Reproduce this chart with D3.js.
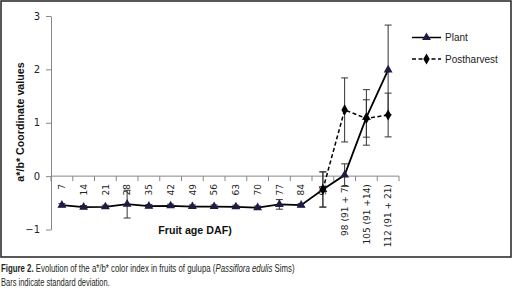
<!DOCTYPE html>
<html><head><meta charset="utf-8">
<script src="https://cdn.jsdelivr.net/npm/d3@7/dist/d3.min.js"></script>
<style>body{margin:0;background:#fff}svg{display:block}</style>
</head><body>
<script>
const categories = ["7","14","21","28","35","42","49","56","63","70","77","84","91","98 (91 + 7)","105 (91 +14)","112 (91 + 21)"];
const plantValues = [-0.545,-0.58,-0.575,-0.525,-0.563,-0.556,-0.57,-0.57,-0.575,-0.59,-0.53,-0.545,-0.25,0.02,1.10,1.99];
const plantErrors = [0.03,0.03,0.03,0.26,0.03,0.03,0.03,0.03,0.03,0.03,0.09,0.03,0.33,0.21,0.52,0.84];
const postValues = [null,null,null,null,null,null,null,null,null,null,null,null,-0.25,1.24,1.08,1.145];
const postErrors = [null,null,null,null,null,null,null,null,null,null,null,null,0.33,0.6,0.35,0.41];
const yTicks = [-1,0,1,2,3];
const seriesNames = ["Plant","Postharvest"];

const W=513,H=293;
const svg=d3.select("body").append("svg").attr("width",W).attr("height",H);

svg.append("rect").attr("x",1).attr("y",1).attr("width",510).attr("height",256)
  .attr("fill","none").attr("stroke","#222").attr("stroke-width",1.5);

const x=d3.scaleBand().domain(categories).range([51,399]).paddingInner(0).paddingOuter(0);
const y=d3.scaleLinear().domain([-1,3]).range([229.5,16]);
const cx=c=>x(c)+x.bandwidth()/2;
const y0=y(0);

// y axis
const yAxis=d3.axisLeft(y).tickValues(yTicks).tickSize(5).tickSizeOuter(0).tickFormat(d3.format("d"));
const ya=svg.append("g").attr("transform","translate(51,0)").call(yAxis);
ya.select(".domain").attr("stroke","#888");
ya.selectAll(".tick line").attr("stroke","#888");
ya.selectAll(".tick text").attr("font-family","DejaVu Sans").attr("font-size",10).attr("fill","#222").attr("x",-11);

// x axis at y=0
const xg=svg.append("g");
xg.append("line").attr("x1",51).attr("x2",399).attr("y1",y0).attr("y2",y0).attr("stroke","#888");
const bounds=categories.map(c=>x(c)).concat([x.range()[1]]);
xg.selectAll("line.tk").data(bounds).join("line").attr("class","tk")
  .attr("x1",d=>d).attr("x2",d=>d).attr("y1",y0).attr("y2",y0+5).attr("stroke","#888");
xg.selectAll("text").data(categories).join("text")
  .attr("transform",d=>`translate(${cx(d)},${y0+8}) rotate(-90)`)
  .attr("text-anchor","end").attr("dy","0.35em")
  .attr("font-family","DejaVu Sans").attr("font-size",9).attr("fill","#222").text(d=>d);

// axis titles
svg.append("text").attr("transform","translate(24,122) rotate(-90)").attr("text-anchor","middle")
  .attr("font-family","Liberation Sans").attr("font-weight","bold").attr("font-size",10.7).attr("fill","#111")
  .text("a*/b* Coordinate values");
svg.append("text").attr("x",195).attr("y",234).attr("text-anchor","middle")
  .attr("font-family","Liberation Sans").attr("font-weight","bold").attr("font-size",10.7).attr("fill","#111")
  .text("Fruit age DAF)");

// error bars
function errBars(vals,errs){
  const data=categories.map((c,i)=>({c,v:vals[i],e:errs[i]})).filter(d=>d.v!=null&&d.e!=null);
  const g=svg.append("g").attr("stroke","#333").attr("stroke-width",1);
  data.forEach(d=>{
    const X=cx(d.c),t=y(d.v+d.e),b=y(d.v-d.e);
    g.append("line").attr("x1",X).attr("x2",X).attr("y1",t).attr("y2",b);
    g.append("line").attr("x1",X-3.5).attr("x2",X+3.5).attr("y1",t).attr("y2",t);
    g.append("line").attr("x1",X-3.5).attr("x2",X+3.5).attr("y1",b).attr("y2",b);
  });
}
errBars(plantValues,plantErrors);
errBars(postValues,postErrors);

const line=d3.line().defined(d=>d.v!=null).x(d=>cx(d.c)).y(d=>y(d.v));
const pData=categories.map((c,i)=>({c,v:plantValues[i]}));
const hData=categories.map((c,i)=>({c,v:postValues[i]}));
svg.append("path").datum(hData).attr("d",line).attr("fill","none").attr("stroke","#000").attr("stroke-width",1.5).attr("stroke-dasharray","4,2.5");
svg.append("path").datum(pData).attr("d",line).attr("fill","none").attr("stroke","#000").attr("stroke-width",1.8);

const tri=d3.symbol().type(d3.symbolTriangle).size(34);
const dia=d3.symbol().type(d3.symbolDiamond).size(36);
svg.append("g").selectAll("path").data(pData).join("path")
  .attr("transform",d=>`translate(${cx(d.c)},${y(d.v)})`).attr("d",tri).attr("fill","#1c1c45");
svg.append("g").selectAll("path").data(hData.filter(d=>d.v!=null)).join("path")
  .attr("transform",d=>`translate(${cx(d.c)},${y(d.v)})`).attr("d",dia).attr("fill","#000");

// legend
const lg=svg.append("g");
[[37.5,false,tri,"#1c1c45"],[59,true,dia,"#000"]].forEach((r,i)=>{
  const [ly,dash,sym,col]=r;
  lg.append("line").attr("x1",412).attr("x2",441).attr("y1",ly).attr("y2",ly).attr("stroke","#000")
    .attr("stroke-width",1.5).attr("stroke-dasharray",dash?"4,2.5":null);
  lg.append("path").attr("transform",`translate(426.5,${ly})`).attr("d",sym).attr("fill",col);
  lg.append("text").attr("x",445).attr("y",ly).attr("dy","0.35em").attr("font-family","Liberation Sans")
    .attr("font-size",10).attr("fill","#222").text(seriesNames[i]);
});

// caption
function fitText(sel,target){
  const w=sel.node().getComputedTextLength();
  return target/w;
}
const c1=svg.append("text").attr("font-family","Liberation Sans").attr("font-size",10.5).attr("fill","#231f20");
c1.append("tspan").attr("font-weight","bold").text("Figure 2.");
c1.append("tspan").text(" Evolution of the a*/b* color index in fruits of gulupa (");
c1.append("tspan").attr("font-style","italic").text("Passiflora edulis");
c1.append("tspan").text(" Sims)");
c1.attr("transform",`translate(1,271.5) scale(${fitText(c1,294)},1)`);
const c2=svg.append("text").attr("font-family","Liberation Sans").attr("font-size",10.5).attr("fill","#231f20")
  .text("Bars indicate standard deviation.");
c2.attr("transform",`translate(1,286) scale(${fitText(c2,109)},1)`);
</script>
</body></html>
